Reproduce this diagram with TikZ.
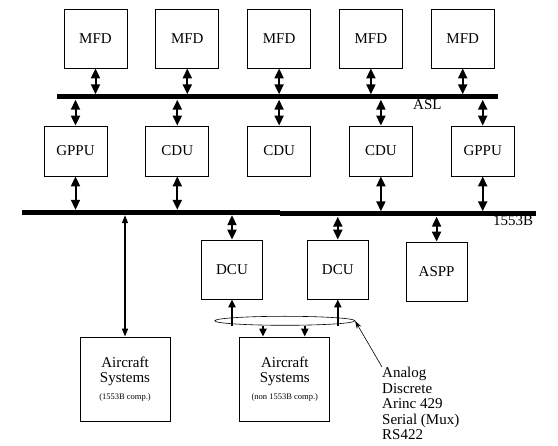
\documentclass[tikz,border=0pt]{standalone}
\usepackage{fontspec}
\setmainfont{Liberation Serif}
\usetikzlibrary{arrows.meta, positioning, calc, shapes.geometric}

\begin{document}
\begin{tikzpicture}[x=1pt, y=-1pt, node distance=28pt,
    every node/.style={font=\fontsize{15pt}{15.5pt}\selectfont},
    unit/.style={draw, line width=0.8pt, minimum width=63pt, minimum height=59pt,
                 inner sep=1pt, align=center},
    bus/.style={fill=black, inner sep=0pt, minimum height=5pt},
    link/.style={{Triangle[length=10pt,width=9pt]}-{Triangle[length=10pt,width=9pt]}, line width=2pt},
    feed/.style={-{Triangle[length=8pt,width=7pt]}, line width=2pt}]
        \useasboundingbox (0,0) rectangle (558,446);
        % displays on the ASL
        \node[unit] (mfd1) at (95.5,38.5) {MFD};
        \node[unit, right=of mfd1] (mfd2) {MFD};
        \node[unit, right=of mfd2] (mfd3) {MFD};
        \node[unit, right=of mfd3] (mfd4) {MFD};
        \node[unit, right=of mfd4] (mfd5) {MFD};
        \node[bus, minimum width=441pt] (asl) at (277.5,97) {};
        \node[anchor=base west, inner sep=0pt] (asllabel) at (413,110) {ASL};
        % processors between the buses
        \node[unit, minimum height=50pt] (gppu1) at (75.5,151) {GPPU};
        \node[unit, minimum height=50pt, right=38pt of gppu1] (cdu1) {CDU};
        \node[unit, minimum height=50pt, right=38pt of cdu1] (cdu2) {CDU};
        \node[unit, minimum height=50pt, right=38pt of cdu2] (cdu3) {CDU};
        \node[unit, minimum height=50pt, right=38pt of cdu3] (gppu2) {GPPU};
        \node[bus, minimum width=258pt] (busl) at (151,212.5) {};
        \node[bus, minimum width=256pt] (busr) at (408,214) {};
        \node[anchor=base west, inner sep=0pt] (buslabel) at (493,225.5) {1553B};
        % remote units on the 1553B
        \node[unit, minimum width=61pt] (dcu1) at (232,269.5) {DCU};
        \node[unit, minimum width=61pt, right=44pt of dcu1] (dcu2) {DCU};
        \node[unit, minimum width=61pt, right=37pt of dcu2, yshift=-2pt] (aspp) {ASPP};
        \node[unit, minimum width=90pt, minimum height=84pt] (sys1) at (125,379)
              {Aircraft\\Systems\\[1pt]{\fontsize{8.5pt}{10pt}\selectfont (1553B comp.)}};
        \node[unit, minimum width=90pt, minimum height=84pt, right=69pt of sys1] (sys2)
              {Aircraft\\Systems\\[1pt]{\fontsize{8.5pt}{10pt}\selectfont (non 1553B comp.)}};
        \node[ellipse, draw, line width=0.6pt, minimum width=140pt, minimum height=9pt,
              inner sep=0pt, above=11pt of sys2] (bundle) {};
        \node[anchor=north west, inner sep=0pt, align=left] (list) at (382,367)
              {Analog\\Discrete\\Arinc 429\\Serial (Mux)\\RS422};
        % ASL links
        \draw[link] (mfd1.south) -- (mfd1.south |- asl.north);
        \draw[link] (mfd2.south) -- (mfd2.south |- asl.north);
        \draw[link] (mfd3.south) -- (mfd3.south |- asl.north);
        \draw[link] (mfd4.south) -- (mfd4.south |- asl.north);
        \draw[link] (mfd5.south) -- (mfd5.south |- asl.north);
        \draw[link] (gppu1.north |- asl.south) -- (gppu1.north);
        \draw[link] (cdu1.north |- asl.south) -- (cdu1.north);
        \draw[link] (cdu2.north |- asl.south) -- (cdu2.north);
        \draw[link] (cdu3.north |- asl.south) -- (cdu3.north);
        \draw[link] (gppu2.north |- asl.south) -- (gppu2.north);
        % 1553B links
        \draw[link] (gppu1.south) -- (gppu1.south |- busl.north);
        \draw[link] (cdu1.south) -- (cdu1.south |- busl.north);
        \draw[link] (cdu3.south) -- (cdu3.south |- busr.north);
        \draw[link] (gppu2.south) -- (gppu2.south |- busr.north);
        \draw[link] (dcu1.north |- busl.south) -- (dcu1.north);
        \draw[link] (dcu2.north |- busr.south) -- (dcu2.north);
        \draw[link] (aspp.north |- busr.south) -- (aspp.north);
        \draw[{Triangle[length=8pt,width=6pt]}-{Triangle[length=8pt,width=6pt]}, line width=1.5pt]
              (sys1.north |- busl.south) -- (sys1.north);
        % discrete wiring
        \coordinate (in1) at ($(sys2.north west)!0.26!(sys2.north east)$);
        \coordinate (in2) at ($(sys2.north west)!0.72!(sys2.north east)$);
        \draw[feed] (dcu1.south |- bundle.south) -- (dcu1.south);
        \draw[feed] (dcu2.south |- bundle.south) -- (dcu2.south);
        \draw[feed] (in1 |- bundle.south) -- (in1);
        \draw[feed] (in2 |- bundle.south) -- (in2);
        \draw[-{Stealth[length=8pt,width=5pt]}, line width=0.6pt] (list.north west) -- (bundle.east);
      \end{tikzpicture}
\end{document}
